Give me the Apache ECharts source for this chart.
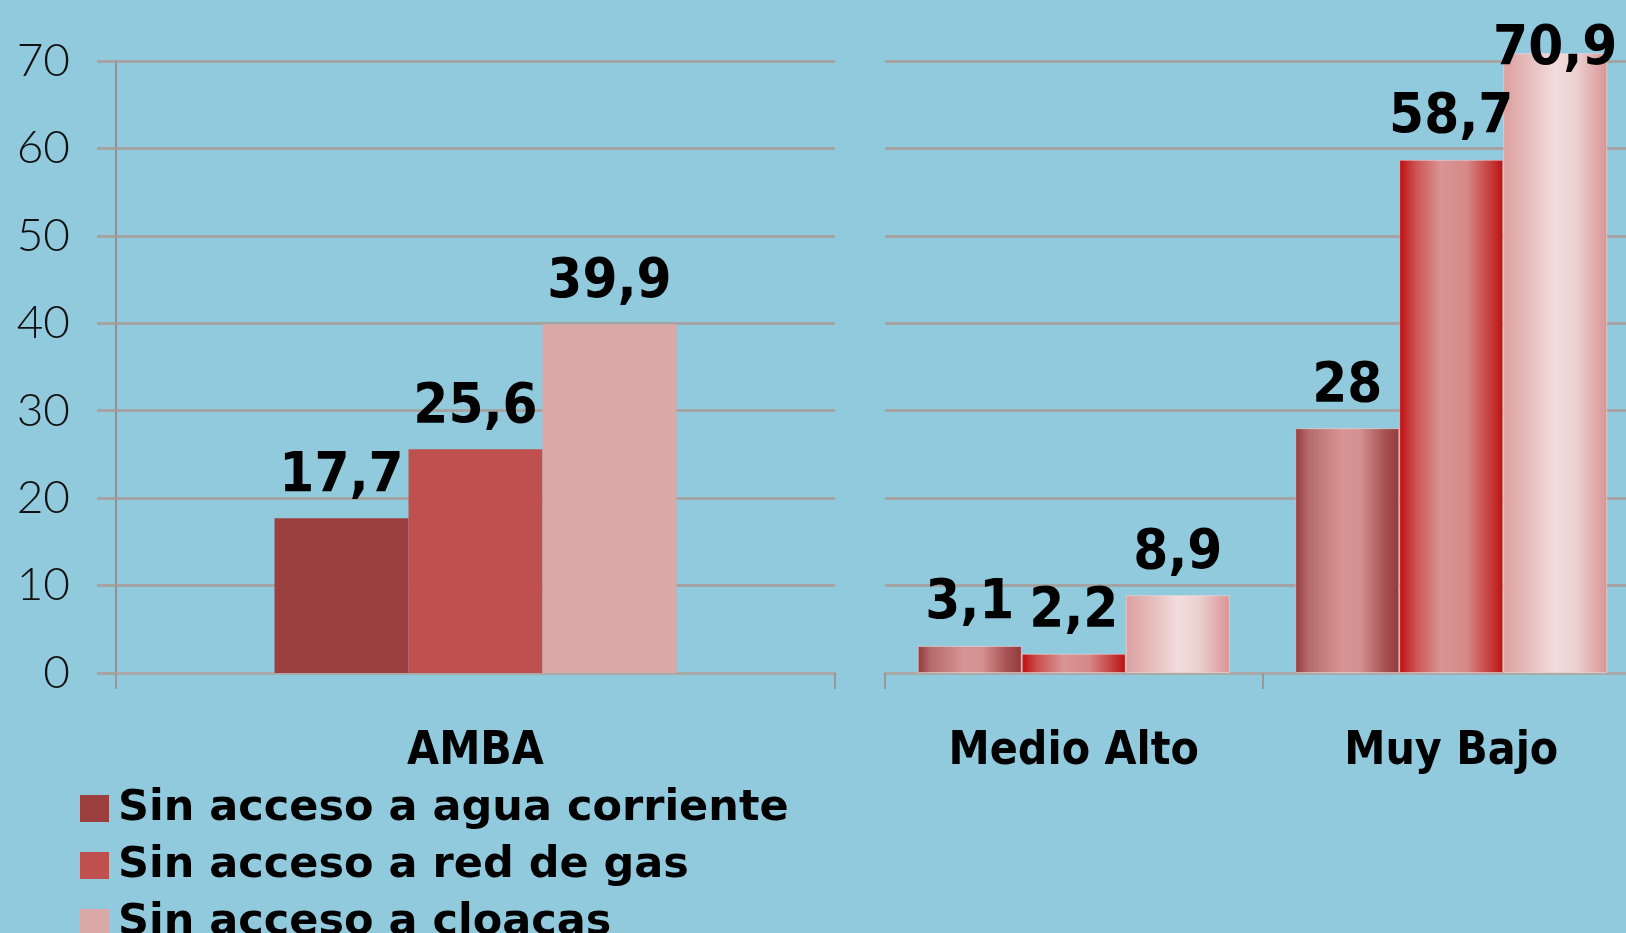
<!DOCTYPE html>
<html>
<head>
<meta charset="utf-8">
<script src="https://cdn.jsdelivr.net/npm/echarts@6/dist/echarts.min.js"></script>
<style>
  html, body { margin: 0; padding: 0; background: #92cadd; overflow: hidden; }
  /* a little wider than the window: the last category runs past the right edge */
  #chart { width: 1640px; height: 933px; }
</style>
</head>
<body>
<div id="chart"></div>
<script>
const seriesNames = ["Sin acceso a agua corriente", "Sin acceso a red de gas", "Sin acceso a cloacas"];

const regionCategories = ["AMBA"];
const nseCategories = ["Medio Alto", "Muy Bajo"];

// AMBA total
const aguaAmba = [17.7];
const gasAmba = [25.6];
const cloacasAmba = [39.9];

// by socio-economic level
const aguaNse = [3.1, 28];
const gasNse = [2.2, 58.7];
const cloacasNse = [8.9, 70.9];

const yTicks = [0, 10, 20, 30, 40, 50, 60, 70];

const solidColors = ["#9b3f3f", "#c0504d", "#dba8a8"];

function grad(stops) {
    return new echarts.graphic.LinearGradient(0, 0, 1, 0,
        stops.map(s => ({ offset: s[0], color: s[1] })));
}

const gradColors = [
    grad([[0, "#933a3a"], [0.12, "#b46a6a"], [0.45, "#d89494"], [0.62, "#d59090"], [0.86, "#a65252"], [1, "#933a3a"]]),
    grad([[0, "#c00c0c"], [0.15, "#cc5050"], [0.4, "#d89494"], [0.65, "#d68888"], [0.9, "#c43434"], [1, "#bd0f0f"]]),
    grad([[0, "#dca0a0"], [0.25, "#e6bcbc"], [0.5, "#f2dddd"], [0.7, "#ecd0d0"], [1, "#d99494"]])
];

const condFont = '"DejaVu Sans Condensed", "DejaVu Sans", sans-serif';
const boldFont = '"DejaVu Sans", sans-serif';

const shadow = {
    textShadowColor: "rgba(90,90,90,0.7)",
    textShadowOffsetX: 2,
    textShadowOffsetY: 2,
    textShadowBlur: 0
};

const valueLabel = Object.assign({}, shadow, {
    show: true,
    position: "top",
    distance: 14,
    color: "#000",
    fontFamily: condFont,
    fontWeight: "bold",
    fontSize: 56,
    textShadowOffsetX: 3,
    textShadowOffsetY: 3,
    formatter: p => String(p.value).replace(".", ",")
});

const gridLine = { show: true, lineStyle: { color: "#a3a3a3", width: 3 } };

const catLabel = Object.assign({}, shadow, {
    margin: 56,
    color: "#000",
    fontFamily: condFont,
    fontWeight: "bold",
    fontSize: 46
});

const chart = echarts.init(document.getElementById("chart"));

const ambaData = [aguaAmba, gasAmba, cloacasAmba];
const nseData = [aguaNse, gasNse, cloacasNse];

const series = [];
ambaData.forEach((d, i) => {
    series.push({
        name: seriesNames[i],
        type: "bar",
        xAxisIndex: 0,
        yAxisIndex: 0,
        barWidth: 134,
        barGap: "0%",
        itemStyle: { color: solidColors[i] },
        label: valueLabel,
        data: d
    });
});
nseData.forEach((d, i) => {
    series.push({
        name: seriesNames[i],
        type: "bar",
        xAxisIndex: 1,
        yAxisIndex: 1,
        barWidth: 104,
        barGap: "0%",
        clip: false,
        itemStyle: { color: gradColors[i], borderColor: "rgba(255,225,225,0.5)", borderWidth: 1 },
        label: valueLabel,
        // the value above the axis max keeps its label inside the picture
        data: d.map(v => v > 70 ? { value: v, label: { offset: [0, 38] } } : v)
    });
});

chart.setOption({
    backgroundColor: "#92cadd",
    animation: false,
    grid: [
        { left: 116, right: 805, top: 61, bottom: 260 },
        { left: 885, right: 0, top: 61, bottom: 260 }
    ],
    legend: {
        orient: "vertical",
        left: 80,
        top: 787,
        height: 300,
        padding: 0,
        itemWidth: 29,
        itemHeight: 27,
        itemGap: 14,
        icon: "rect",
        data: seriesNames,
        textStyle: Object.assign({}, shadow, {
            fontFamily: boldFont,
            fontWeight: "bold",
            fontSize: 43,
            lineHeight: 40,
            color: "#000",
            padding: [0, 0, 0, 4]
        })
    },
    xAxis: [
        {
            type: "category",
            gridIndex: 0,
            data: regionCategories,
            axisLine: { lineStyle: { color: "#aaaaaa", width: 3 } },
            axisTick: { show: true, length: 16, lineStyle: { color: "#999", width: 2 } },
            axisLabel: catLabel
        },
        {
            type: "category",
            gridIndex: 1,
            data: nseCategories,
            axisLine: { lineStyle: { color: "#aaaaaa", width: 3 } },
            axisTick: { show: true, length: 16, lineStyle: { color: "#999", width: 2 } },
            axisLabel: catLabel
        }
    ],
    yAxis: [
        {
            type: "value",
            gridIndex: 0,
            min: yTicks[0],
            max: yTicks[yTicks.length - 1],
            interval: 10,
            axisLine: { show: true, lineStyle: { color: "#909090", width: 2 } },
            axisTick: { show: true, length: 19, lineStyle: { color: "#a3a3a3", width: 3 } },
            splitLine: gridLine,
            axisLabel: {
                margin: 46,
                color: "#111",
                fontFamily: "Lato, sans-serif",
                fontWeight: 300,
                fontSize: 46
            }
        },
        {
            type: "value",
            gridIndex: 1,
            min: yTicks[0],
            max: yTicks[yTicks.length - 1],
            interval: 10,
            axisLine: { show: false },
            axisTick: { show: false },
            axisLabel: { show: false },
            splitLine: gridLine
        }
    ],
    series: series
});
</script>
</body>
</html>
